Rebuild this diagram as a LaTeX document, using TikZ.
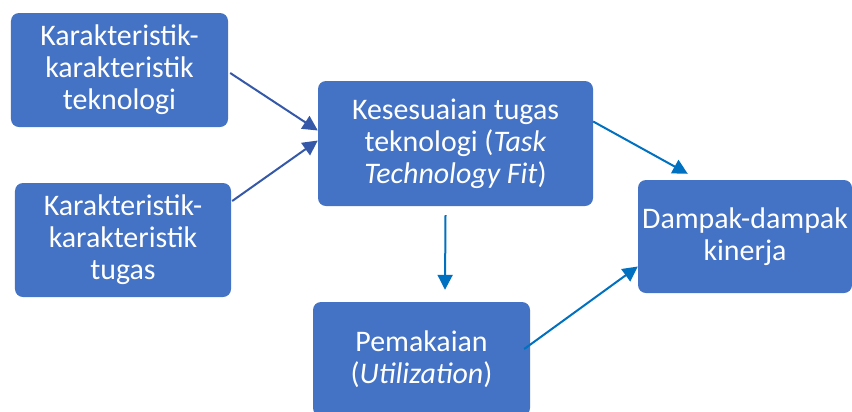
\documentclass[tikz,border=0pt]{standalone}
\usepackage{fontspec}
\setmainfont{Carlito}
\usepackage{tikz}
\usetikzlibrary{arrows.meta,positioning,calc}
\definecolor{boxc}{HTML}{4472C4}
\definecolor{darkarr}{HTML}{3558A8}
\definecolor{arrc}{HTML}{0070C0}
\tikzset{
  blk/.style={fill=boxc, draw=none, rounded corners=8bp, align=center, text=white,
              font=\fontsize{30}{32}\selectfont, inner sep=2bp},
  darr/.style={-{Triangle[length=15bp, width=15bp]}, line width=2bp, draw=darkarr},
  arr/.style={-{Triangle[length=15bp, width=15bp]}, line width=2bp, draw=arrc},
}
\begin{document}
\begin{tikzpicture}[x=1bp, y=-1bp]
  \useasboundingbox (0,0) rectangle (852,411);
  % boxes at pixel centres of the reference
  \node[blk, minimum width=217bp, minimum height=114bp] (tek) at (119.5,70) {Karakteristik-\\karakteristik\\teknologi};
  \node[blk, minimum width=216bp, minimum height=114bp] (tug) at (123,240) {Karakteristik-\\karakteristik\\tugas};
  \node[blk, minimum width=275bp, minimum height=125bp] (ttf) at (455.5,143.5) {Kesesuaian tugas\\teknologi (\textit{Task}\\\textit{Technology Fit})};
  \node[blk, minimum width=214bp, minimum height=113bp] (damp) at (745,236.5) {Dampak-dampak\\kinerja};
  \node[blk, minimum width=217bp, minimum height=114bp] (pakai) at (421.5,359) {Pemakaian\\(\textit{Utilization})};
  % connectors
  \draw[darr] ($(tek.east)+(2,3)$) -- ($(ttf.west)+(0,-13)$);
  \draw[darr] ($(tug.east)+(1,-39)$) -- ($(ttf.west)+(0,-3)$);
  \draw[arr] ($(ttf.east)+(0,-22)$) -- ($(damp.north west)+(50,-6)$);
  \draw[arr] ($(ttf.south)+(-10,9)$) -- ($(pakai.north)+(23.5,-12)$);
  \draw[arr] ($(pakai.east)+(-6,-10)$) -- ($(damp.west)+(0,30)$);
\end{tikzpicture}
\end{document}
